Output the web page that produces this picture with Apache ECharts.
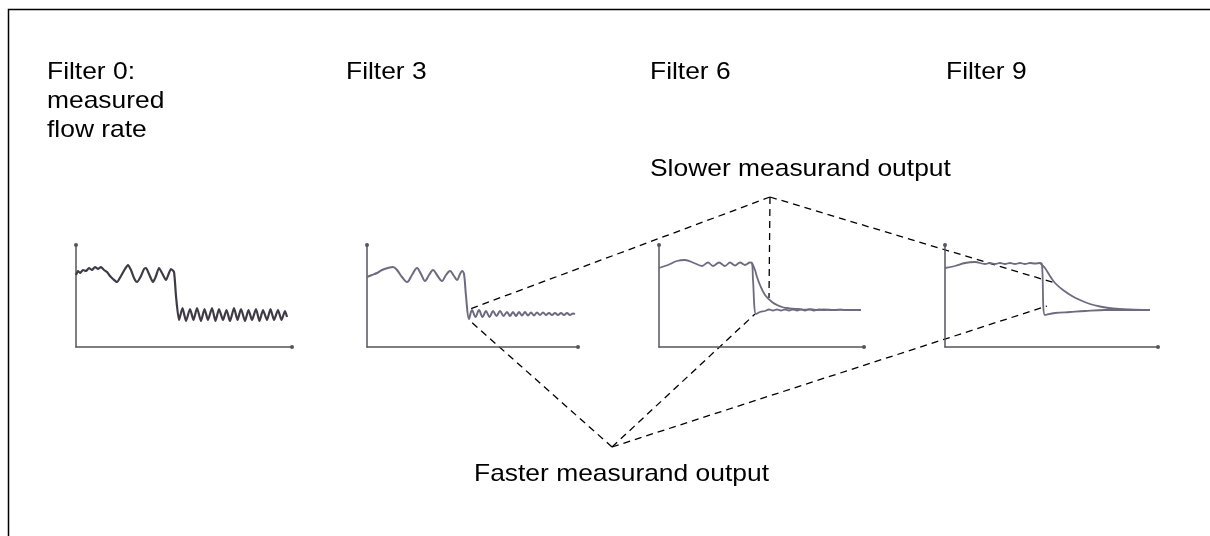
<!DOCTYPE html>
<html>
<head>
<meta charset="utf-8">
<script src="https://cdn.jsdelivr.net/npm/echarts@6/dist/echarts.min.js"></script>
<style>
  html, body { margin: 0; padding: 0; background: #fff; }
  #main { width: 1210px; height: 536px; }
</style>
</head>
<body>
<div id="main"></div>
<script>
// panel titles
const panelTitles = ['Filter 0:\nmeasured\nflow rate', 'Filter 3', 'Filter 6', 'Filter 9']
const slowLabel = 'Slower measurand output'
const fastLabel = 'Faster measurand output'

// [time, flow]
const filter0Flow = [
  [0, 72], [2, 76], [4, 74], [7, 77], [10, 76], [13, 79], [16, 77], [19, 80], [22, 78], [25, 80],
  [28, 77], [31, 75], [34, 71], [37, 68], [41, 65], [45, 71], [49, 78], [52, 82], [55, 77], [58, 69],
  [61, 65], [65, 71], [68, 78], [70, 79], [73, 73], [77, 65], [80, 71], [83, 79], [86, 74], [90, 67],
  [93, 74], [95, 78], [98, 75], [100, 51], [103, 27],
  [106.5, 39], [110, 26], [114, 38], [117.5, 27], [121, 39], [125, 26], [128.5, 38], [132, 27],
  [136, 39], [139.5, 26], [143, 38], [147, 27], [150.5, 37], [154, 26], [158, 39], [161.5, 27],
  [165, 38], [169, 26], [172.5, 37], [176, 27], [180, 38], [183.5, 26], [187, 37], [191, 27],
  [194.5, 38], [198, 27], [202, 37], [205.5, 27], [209, 36], [211, 30]
]

const filter3Flow = [
  [0, 70], [5, 72], [10, 74], [15, 77], [21, 79], [26, 80], [30, 77], [35, 70], [40, 65], [45, 72],
  [50, 79], [54, 73], [58, 66], [62, 72], [66, 77], [70, 72], [75, 66], [79, 72], [83, 76], [87, 71],
  [90, 67], [93, 73], [95, 76], [97, 73], [99, 51], [102, 28],
  [105, 37], [108.5, 30], [112, 37], [115.5, 30], [119, 36], [122.5, 30], [126, 36], [129.5, 31],
  [133, 36], [136.5, 31], [140, 35], [143, 31], [146, 35], [149, 31], [152, 35], [155, 31.5],
  [158, 35], [161, 31.5], [164, 34.5], [167, 31.5], [170, 34.5], [173, 32], [176, 34.5], [179, 32],
  [182, 34], [185, 32], [188, 34], [191, 32], [194, 34], [197, 32], [200, 34], [203, 32], [206, 33.5], [208, 33]
]

const filter6Plateau = [
  [0, 79], [9, 82], [18, 86], [26, 87], [35, 84], [43, 81], [49, 84.5], [54, 81], [60, 84.5],
  [66, 81], [71, 84.5], [76, 81.5], [81, 84.5], [86, 82], [91, 84.5], [93, 84]
]
const filter6Fast = [
  [94, 67], [97, 33], [101, 35], [106, 36], [110, 37.5], [114, 36.5], [118, 37.5], [122, 36.5],
  [126, 37.5], [130, 36.5], [134, 37.5], [138, 36.5], [142, 37.5], [146, 36.5], [150, 37.5],
  [155, 36.5], [160, 37.5], [165, 36.8], [170, 37.4], [176, 36.8], [182, 37.3], [188, 36.9],
  [194, 37.2], [202, 37]
]
const filter6Slow = [
  [96, 77], [98, 70], [101, 62], [106, 52], [113, 45], [118, 42], [123, 40], [128, 39], [133, 38.3],
  [139, 38], [146, 37.3], [152, 37.8], [158, 37], [165, 37.5], [172, 37], [180, 37.4], [190, 37], [202, 37]
]

const filter9Plateau = [
  [0, 79], [10, 81], [20, 84], [30, 85], [40, 83], [45, 84], [50, 83], [55, 84], [60, 83], [65, 84],
  [70, 83], [75, 84], [80, 83], [85, 84], [90, 83.5], [95, 84]
]
const filter9Fast = [
  [97, 82], [100, 32], [110, 34], [125, 35], [140, 36], [160, 37], [180, 37], [205, 37]
]
const filter9Slow = [
  [97, 82], [100, 79], [105, 71], [110, 64], [118, 57], [127, 51], [135, 47], [145, 43],
  [155, 40.5], [168, 38.5], [185, 37.5], [205, 37]
]

// callout targets: [panel, time, flow]
const slowTargets = [[1, 103, 38], [2, 110, 49], [3, 110, 64]]
const fastTargets = [[1, 102, 27], [2, 96, 33], [3, 102, 41]]

const font = '24px "Liberation Sans", Arial, sans-serif'
const lineColor = '#6e6a80'
const panels = [
  { left: 76, width: 216 },
  { left: 367, width: 211 },
  { left: 659, width: 205 },
  { left: 945, width: 213 }
]
const titleLeft = [47, 346, 650, 946]

const axisLine = {
  show: true,
  symbol: ['none', 'circle'],
  symbolSize: [4, 4],
  lineStyle: { color: '#56545e', width: 1.5 }
}

function makeSeries (data, panel, color, width) {
  return {
    type: 'line',
    xAxisIndex: panel,
    yAxisIndex: panel,
    data: data,
    showSymbol: false,
    smooth: 0.35,
    silent: true,
    lineStyle: { color: color, width: width }
  }
}

function label (text, x, y) {
  return {
    type: 'text',
    x: x,
    y: y,
    scaleX: 1.1,
    silent: true,
    style: { text: text, font: font, fill: '#000', lineHeight: 29, verticalAlign: 'top' }
  }
}

const chart = echarts.init(document.getElementById('main'))
chart.setOption({
  animation: false,
  backgroundColor: '#fff',
  grid: panels.map(p => ({ left: p.left, top: 245, width: p.width, height: 102 })),
  xAxis: panels.map((p, i) => ({
    type: 'value', gridIndex: i, min: 0, max: p.width,
    axisLine: axisLine, axisTick: { show: false }, axisLabel: { show: false }, splitLine: { show: false }
  })),
  yAxis: panels.map((p, i) => ({
    type: 'value', gridIndex: i, min: 0, max: 102,
    axisLine: axisLine, axisTick: { show: false }, axisLabel: { show: false }, splitLine: { show: false }
  })),
  series: [
    Object.assign(makeSeries(filter0Flow, 0, '#3e3b46', 2.2), { smooth: 0.2 }),
    makeSeries(filter3Flow, 1, lineColor, 2),
    makeSeries(filter6Plateau.concat(filter6Fast), 2, lineColor, 1.8),
    makeSeries(filter6Plateau.slice(-1).concat(filter6Slow), 2, lineColor, 1.8),
    makeSeries(filter9Plateau.concat(filter9Fast), 3, lineColor, 1.8),
    makeSeries(filter9Plateau.slice(-1).concat(filter9Slow), 3, lineColor, 1.8)
  ]
})

// dashed callouts from the labels to the curves
const slowApex = [770, 197]
const fastApex = [612, 447]
function callout (apex, target) {
  const p = chart.convertToPixel({ gridIndex: target[0] }, [target[1], target[2]])
  return {
    type: 'line',
    silent: true,
    shape: { x1: apex[0], y1: apex[1], x2: p[0], y2: p[1] },
    style: { stroke: '#000', lineWidth: 1.3, lineDash: [7, 5] }
  }
}
chart.setOption({
  graphic: [
    {
      type: 'polyline',
      silent: true,
      shape: { points: [[8.5, 536], [8.5, 9.5], [1210, 9.5]] },
      style: { stroke: '#000', lineWidth: 1.5, fill: null }
    }
  ].concat(
    panelTitles.map((t, i) => label(t, titleLeft[i], 58)),
    [label(slowLabel, 650, 155), label(fastLabel, 474, 460)],
    slowTargets.map(t => callout(slowApex, t)),
    fastTargets.map(t => callout(fastApex, t))
  )
})
</script>
</body>
</html>
